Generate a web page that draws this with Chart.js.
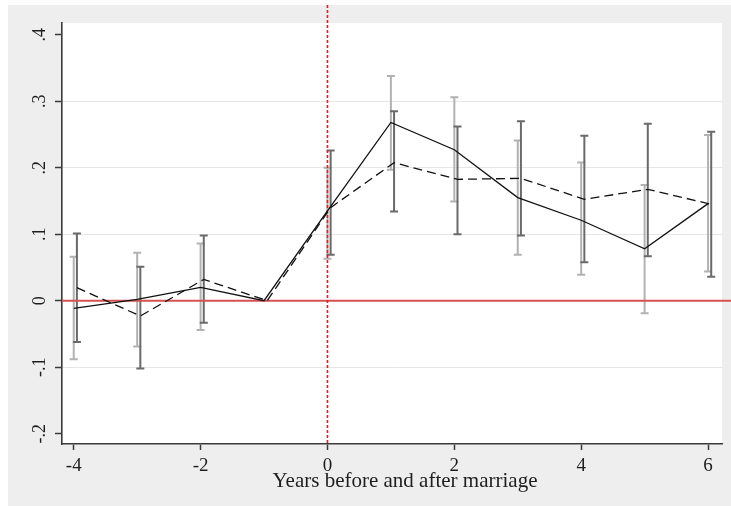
<!DOCTYPE html>
<html>
<head>
<meta charset="utf-8">
<script src="https://cdn.jsdelivr.net/npm/chart.js@4.4.1/dist/chart.umd.min.js"></script>
<style>
html,body{margin:0;padding:0;background:#fff;}
#wrap{width:731px;height:506px;position:relative;}
</style>
</head>
<body>
<div id="wrap"><canvas id="c" width="731" height="506"></canvas></div>
<script>
// ---- data ----
const years = [-4, -3, -2, -1, 0, 1, 2, 3, 4, 5, 6];
// solid line + light-gray confidence bars
const solidEst = [-0.0115, 0.002, 0.020, 0, 0.135, 0.268, 0.227, 0.155, 0.121, 0.078, 0.146];
const solidLo  = [-0.088, -0.069, -0.044, null, 0.063, 0.197, 0.149, 0.069, 0.039, -0.019, 0.044];
const solidHi  = [0.066, 0.072, 0.086, null, 0.200, 0.338, 0.306, 0.241, 0.208, 0.174, 0.249];
// dashed line + dark-gray confidence bars
const dashEst = [0.0196, -0.023, 0.032, 0, 0.140, 0.2075, 0.1825, 0.184, 0.1525, 0.1675, 0.145];
const dashLo  = [-0.062, -0.102, -0.033, null, 0.069, 0.134, 0.100, 0.098, 0.058, 0.067, 0.036];
const dashHi  = [0.101, 0.051, 0.098, null, 0.226, 0.285, 0.262, 0.270, 0.248, 0.266, 0.254];
const dashShift = 0.05;

const xTickValues = [-4, -2, 0, 2, 4, 6];
const xTickLabels = ['-4', '-2', '0', '2', '4', '6'];
const yTickValues = [-0.2, -0.1, 0, 0.1, 0.2, 0.3, 0.4];
const yTickLabels = ['-.2', '-.1', '0', '.1', '.2', '.3', '.4'];
const yGridValues = [-0.1, 0.1, 0.2, 0.3];
const xTitle = 'Years before and after marriage';

const SERIF = "'Liberation Serif', 'DejaVu Serif', serif";

const deco = {
  id: 'deco',
  beforeDraw(chart) {
    const {ctx, chartArea: a, width, height} = chart;
    ctx.save();
    ctx.fillStyle = '#ffffff';
    ctx.fillRect(0, 0, width, height);
    ctx.fillStyle = '#eeeeee';
    ctx.fillRect(8, 5, width - 8, height - 5);
    ctx.fillStyle = '#ffffff';
    ctx.fillRect(a.left, a.top, a.right - a.left, a.bottom - a.top);
    ctx.restore();
  },
  beforeDatasetsDraw(chart) {
    const {ctx, chartArea: a, scales: {x, y}} = chart;
    ctx.save();
    function bars(lo, hi, shift, color) {
      ctx.strokeStyle = color;
      ctx.lineWidth = 2;
      ctx.lineCap = 'butt';
      for (let i = 0; i < years.length; i++) {
        if (lo[i] === null || hi[i] === null) continue;
        const px = x.getPixelForValue(years[i] + shift);
        const p1 = y.getPixelForValue(lo[i]);
        const p2 = y.getPixelForValue(hi[i]);
        ctx.beginPath();
        ctx.moveTo(px, p1); ctx.lineTo(px, p2);
        ctx.moveTo(px - 4, p1); ctx.lineTo(px + 4, p1);
        ctx.moveTo(px - 4, p2); ctx.lineTo(px + 4, p2);
        ctx.stroke();
      }
    }
    bars(solidLo, solidHi, 0, '#b2b2b2');
    bars(dashLo, dashHi, dashShift, '#6a6a6a');
    // horizontal reference line at 0
    const y0 = y.getPixelForValue(0);
    ctx.strokeStyle = '#d55252';
    ctx.lineWidth = 2;
    ctx.beginPath();
    ctx.moveTo(a.left, y0); ctx.lineTo(chart.width, y0);
    ctx.stroke();
    // vertical dashed reference line at 0
    const x0 = x.getPixelForValue(0);
    ctx.strokeStyle = '#dd2020';
    ctx.lineWidth = 1.6;
    ctx.setLineDash([3, 2]);
    ctx.beginPath();
    ctx.moveTo(x0, 5); ctx.lineTo(x0, a.bottom);
    ctx.stroke();
    ctx.restore();
  },
  afterDraw(chart) {
    const {ctx, scales: {y}} = chart;
    ctx.save();
    ctx.fillStyle = '#1e1e1e';
    ctx.font = '18px ' + SERIF;
    ctx.textAlign = 'center';
    ctx.textBaseline = 'alphabetic';
    for (let i = 0; i < yTickValues.length; i++) {
      const py = y.getPixelForValue(yTickValues[i]);
      ctx.save();
      ctx.translate(45, py);
      ctx.rotate(-Math.PI / 2);
      ctx.fillText(yTickLabels[i], 0, 0);
      ctx.restore();
    }
    ctx.restore();
  }
};

new Chart(document.getElementById('c'), {
  type: 'line',
  data: {
    datasets: [
      {
        label: 'solid',
        data: years.map((v, i) => ({x: v, y: solidEst[i]})),
        borderColor: '#111111',
        borderWidth: 1.3,
        pointRadius: 0,
        tension: 0,
        fill: false
      },
      {
        label: 'dashed',
        data: years.map((v, i) => ({x: v + dashShift, y: dashEst[i]})),
        borderColor: '#111111',
        borderWidth: 1.3,
        borderDash: [9, 5],
        pointRadius: 0,
        tension: 0,
        fill: false
      }
    ]
  },
  options: {
    responsive: false,
    animation: false,
    devicePixelRatio: 1,
    layout: {padding: {left: 0, top: 23, right: 9, bottom: 0}},
    plugins: {legend: {display: false}, tooltip: {enabled: false}},
    scales: {
      x: {
        type: 'linear',
        min: -4.185,
        max: 6.22,
        afterBuildTicks(scale) { scale.ticks = xTickValues.map(v => ({value: v})); },
        afterFit(scale) {
          scale.height = 62;
          if (!scale._shiftedTitle) {
            const orig = scale.drawTitle.bind(scale);
            scale.drawTitle = function () {
              const c = this.ctx;
              c.save(); c.translate(13, 0); orig(); c.restore();
            };
            scale._shiftedTitle = true;
          }
        },
        grid: {drawOnChartArea: false, drawTicks: true, tickLength: 6, tickColor: '#3a3a3a', tickWidth: 1.5},
        border: {display: true, color: '#3a3a3a', width: 1.6},
        ticks: {
          maxRotation: 0, minRotation: 0, autoSkip: false, padding: 5,
          color: '#1e1e1e',
          font: {family: SERIF, size: 19},
          callback: (v) => xTickLabels[xTickValues.indexOf(v)]
        },
        title: {
          display: true, text: xTitle, color: '#1e1e1e',
          font: {family: SERIF, size: 21},
          padding: {top: 0, bottom: 12}
        }
      },
      y: {
        type: 'linear',
        min: -0.2155,
        max: 0.4176,
        afterBuildTicks(scale) { scale.ticks = yTickValues.map(v => ({value: v})); },
        afterFit(scale) { scale.width = 62; },
        grid: {
          drawTicks: true, tickLength: 7, tickColor: '#3a3a3a', tickWidth: 1.5,
          lineWidth: 1,
          color: (c) => (c.tick && yGridValues.some(g => Math.abs(g - c.tick.value) < 1e-9)) ? '#e6e6e6' : 'rgba(0,0,0,0)'
        },
        border: {display: true, color: '#3a3a3a', width: 1.6},
        ticks: {display: false}
      }
    }
  },
  plugins: [deco]
});
</script>
</body>
</html>
